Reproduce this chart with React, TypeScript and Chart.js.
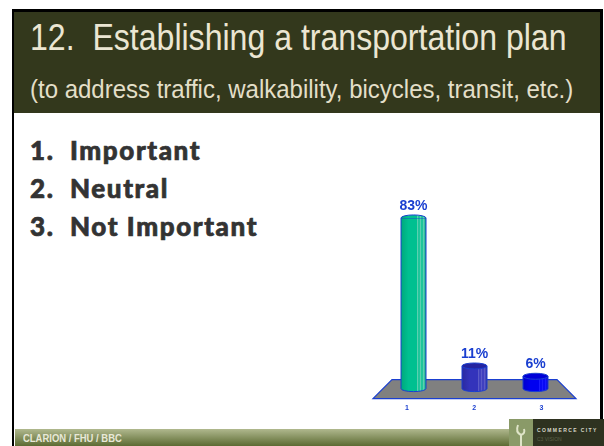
import React, { useEffect, useRef } from "react";
import { Chart, registerables } from "chart.js";

Chart.register(...registerables);

const categories = ["1", "2", "3"];
const values = [83, 11, 6];
const valueLabels = ["83%", "11%", "6%"];
const barColors = ["#00c090", "#3333bb", "#0000f0"];
const barDark = ["#00a87c", "#2a2aa0", "#0000cc"];
const barLight = ["#5cd0b0", "#5a5ac8", "#1a1aff"];
const topColors = ["#00c090", "#2424a0", "#0000d8"];
const titleLine = "12.  Establishing a transportation plan";
const subtitleLine = "(to address traffic, walkability, bicycles, transit, etc.)";
const options = ["1.  Important", "2.  Neutral", "3.  Not Important"];
const footerText = "CLARION / FHU / BBC";

const BLUE = "#1a3fd0";
const LABEL_MIN = 0.643;
const LABEL_MAX = 3.364;

const cylinderPlugin = {
  id: "cylinder",
  beforeDatasetsDraw(chart: any) {
    const { ctx } = chart;
    const base = chart.scales.y.getPixelForValue(0);
    const area = chart.chartArea;
    ctx.save();
    ctx.beginPath();
    ctx.moveTo(area.left - 10, base + 10);
    ctx.lineTo(area.right + 10, base + 10);
    ctx.lineTo(area.right - 9, base - 9);
    ctx.lineTo(area.left + 9, base - 9);
    ctx.closePath();
    ctx.fillStyle = "#808080";
    ctx.fill();
    ctx.strokeStyle = BLUE;
    ctx.lineWidth = 1.2;
    ctx.stroke();
    ctx.restore();
  },
  afterDatasetsDraw(chart: any) {
    const { ctx } = chart;
    const meta = chart.getDatasetMeta(0);
    const base = chart.scales.y.getPixelForValue(0);
    meta.data.forEach((bar: any, i: number) => {
      const half = bar.width / 2;
      const ry = 3;
      const cx = bar.x;
      const left = cx - half;
      const w = bar.width;
      const grad = ctx.createLinearGradient(left, 0, left + w, 0);
      grad.addColorStop(0, barDark[i]);
      grad.addColorStop(0.3, barColors[i]);
      grad.addColorStop(0.62, barColors[i]);
      grad.addColorStop(0.66, barLight[i]);
      grad.addColorStop(0.72, barColors[i]);
      grad.addColorStop(0.78, barLight[i]);
      grad.addColorStop(0.84, barColors[i]);
      grad.addColorStop(0.9, barLight[i]);
      grad.addColorStop(1, barDark[i]);
      ctx.save();
      ctx.beginPath();
      ctx.moveTo(left, bar.y);
      ctx.lineTo(left, base);
      ctx.ellipse(cx, base, half, ry, 0, Math.PI, 0, true);
      ctx.lineTo(left + w, bar.y);
      ctx.closePath();
      ctx.fillStyle = grad;
      ctx.fill();
      ctx.strokeStyle = BLUE;
      ctx.lineWidth = 1;
      ctx.stroke();
      ctx.beginPath();
      if (i === 0) {
        ctx.ellipse(cx, bar.y, half, ry, 0, Math.PI, 0);
        ctx.fillStyle = grad;
        ctx.fill();
        ctx.stroke();
      } else {
        ctx.ellipse(cx, bar.y, half, ry, 0, 0, Math.PI * 2);
        ctx.fillStyle = topColors[i];
        ctx.fill();
        ctx.stroke();
      }
      ctx.fillStyle = BLUE;
      ctx.font = "bold 14px 'Liberation Sans'";
      ctx.textAlign = "center";
      ctx.textBaseline = "alphabetic";
      ctx.fillText(valueLabels[i], cx, bar.y - 8);
      ctx.restore();
    });
  },
};

export default function App() {
  const ref = useRef<HTMLCanvasElement>(null);
  useEffect(() => {
    const chart = new Chart(ref.current!, {
      type: "bar",
      data: {
        labels: categories,
        datasets: [
          {
            data: values,
            backgroundColor: "rgba(0,0,0,0)",
            borderWidth: 0,
            barThickness: 25,
          },
        ],
      },
      options: {
        animation: false,
        responsive: false,
        layout: { padding: { left: 383, right: 38, top: 183, bottom: 19 } },
        plugins: { legend: { display: false }, tooltip: { enabled: false } },
        scales: {
          x: { display: false, offset: true },
          y: { display: false, min: 0, max: 100 },
          xLabels: {
            type: "linear",
            axis: "x",
            position: "bottom",
            offset: false,
            bounds: "data",
            border: { display: false },
            grid: { display: false, drawTicks: false },
            afterBuildTicks: (axis: any) => {
              axis.ticks = categories.map((c) => ({ value: Number(c) }));
              axis.min = LABEL_MIN;
              axis.max = LABEL_MAX;
            },
            ticks: {
              color: BLUE,
              font: { family: "'Liberation Sans'", size: 7, weight: "bold" },
              padding: 15,
              maxRotation: 0,
              autoSkip: false,
              callback: (v: any) => String(v),
            },
          },
        } as any,
      },
      plugins: [cylinderPlugin],
    } as any);
    return () => chart.destroy();
  }, []);

  const abs = (s: React.CSSProperties): React.CSSProperties => ({ position: "absolute", ...s });

  return (
    <div style={abs({ left: 0, top: 0, width: 604, height: 446, background: "#fff", overflow: "hidden", margin: 0 })}>
      <style>{"body{margin:0}"}</style>
      <div style={abs({ left: 12, top: 9, width: 591, height: 437, boxSizing: "border-box", borderLeft: "2.5px solid #000", borderTop: "3px solid #000", borderRight: "3px solid #000" })} />
      <div style={abs({ left: 14, top: 12, width: 586, height: 101, background: "#33381c" })} />
      <div style={abs({ left: 30, top: 12, color: "#ebe6d2", fontFamily: "'Liberation Sans'", fontSize: 37.5, lineHeight: "50px", whiteSpace: "pre", transform: "scaleX(0.855)", transformOrigin: "left top" })}>{titleLine}</div>
      <div style={abs({ left: 30, top: 72, color: "#e3dfc8", fontFamily: "'Liberation Sans'", fontSize: 25.5, lineHeight: "34px", whiteSpace: "pre", transform: "scaleX(0.941)", transformOrigin: "left top" })}>{subtitleLine}</div>
      {options.map((t, i) => (
        <div key={t} style={abs({ left: 30, top: 134 + i * 38, color: "#333333", fontFamily: "Lato", fontWeight: 900, fontSize: 26, letterSpacing: 1.6, WebkitTextStroke: "0.7px #333333", lineHeight: "32px", whiteSpace: "pre" })}>{t}</div>
      ))}
      <div style={abs({ left: 15, top: 429, width: 495, height: 17, background: "linear-gradient(#b0b88e,#5c6b32)" })} />
      <div style={abs({ left: 23, top: 430, color: "#e8e8d8", fontFamily: "'Liberation Sans'", fontWeight: 700, fontSize: 11, lineHeight: "16px", whiteSpace: "pre", transform: "scaleX(0.86)", transformOrigin: "left top" })}>{footerText}</div>
      <div style={abs({ left: 509, top: 419, width: 95, height: 27, background: "linear-gradient(90deg,#8a9a68 0,#8a9a68 24px,#2e3220 24px)" })} />
      <svg style={abs({ left: 509, top: 419 })} width={24} height={27}>
        <path d="M12 27 L12 16 C8 14 7 11 9 6 M12 16 C15 15 16 13 15 10" stroke="#dfe4c8" strokeWidth={2} fill="none" />
      </svg>
      <div style={abs({ left: 537, top: 426, color: "#d8d8c8", fontFamily: "'Liberation Sans'", fontWeight: 700, fontSize: 5, letterSpacing: 1.4, lineHeight: "8px", whiteSpace: "pre" })}>{"COMMERCE CITY"}</div>
      <div style={abs({ left: 537, top: 435, color: "#5c6048", fontFamily: "'Liberation Sans'", fontSize: 5, lineHeight: "8px", whiteSpace: "pre" })}>{"C3 VISION"}</div>
      <canvas ref={ref} width={604} height={446} style={abs({ left: 0, top: 0, width: 604, height: 446 })} />
    </div>
  );
}
